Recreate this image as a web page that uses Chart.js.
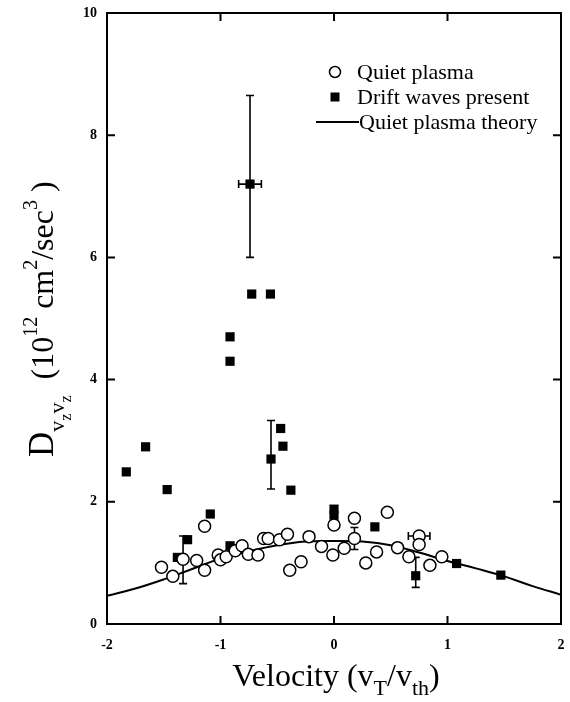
<!DOCTYPE html>
<html>
<head>
<meta charset="utf-8">
<script src="https://cdn.jsdelivr.net/npm/chart.js@4.4.0/dist/chart.umd.min.js"></script>
<style>
    html, body { margin: 0; padding: 0; background: #fff; }
    #wrap { width: 570px; height: 702px; }
</style>
</head>
<body>
<div id="wrap"><canvas id="chart" width="570" height="702"></canvas></div>
<script>
// Quiet plasma (open circles)
const quietX = [-1.52, -1.42, -1.33, -1.21, -1.14, -1.14, -1.02, -1.00, -0.95, -0.87, -0.81, -0.755, -0.67, -0.62, -0.58, -0.48, -0.41, -0.39, -0.29, -0.22, -0.11, -0.01, 0.00, 0.09, 0.18, 0.18, 0.28, 0.375, 0.47, 0.56, 0.66, 0.75, 0.75, 0.845, 0.95];
const quietY = [0.93, 0.78, 1.06, 1.04, 1.60, 0.88, 1.13, 1.05, 1.10, 1.20, 1.28, 1.14, 1.13, 1.40, 1.40, 1.38, 1.47, 0.88, 1.02, 1.43, 1.27, 1.13, 1.62, 1.24, 1.73, 1.40, 1.00, 1.18, 1.83, 1.25, 1.10, 1.44, 1.30, 0.96, 1.10];

// Drift waves present (filled squares)
const driftX = [-1.83, -1.66, -1.47, -1.38, -1.29, -1.09, -0.916, -0.916, -0.916, -0.74, -0.725, -0.56, -0.555, -0.47, -0.45, -0.38, 0.00, 0.00, 0.36, 0.72, 1.08, 1.47];
const driftY = [2.49, 2.90, 2.20, 1.09, 1.38, 1.80, 4.70, 4.30, 1.28, 7.20, 5.40, 5.40, 2.70, 3.20, 2.91, 2.19, 1.88, 1.78, 1.59, 0.79, 0.99, 0.80];

// Quiet plasma theory
const theoryX = [-2, -1.75, -1.5, -1.25, -1, -0.75, -0.5, -0.25, 0, 0.25, 0.5, 0.75, 1, 1.25, 1.5, 1.75, 2];
const theoryY = [0.46, 0.58, 0.73, 0.90, 1.07, 1.19, 1.29, 1.35, 1.36, 1.35, 1.29, 1.17, 1.03, 0.91, 0.78, 0.62, 0.48];

// error bars (null = no bar in that direction)
const errX     = [-0.74, -0.555, -1.33, 0.18, 0.75, 0.72];
const errY     = [7.20, 2.70, 1.06, 1.40, 1.44, 0.79];
const errYLow  = [6.00, 2.21, 0.66, 1.22, null, 0.60];
const errYHigh = [8.65, 3.33, 1.44, 1.58, null, 1.09];
const errXLow  = [-0.84, null, null, null, 0.655, null];
const errXHigh = [-0.64, null, null, null, 0.845, null];

const xTicks = [-2, -1, 0, 1, 2];
const yTicks = [0, 2, 4, 6, 8, 10];

const SERIF = '"Liberation Serif", "Times New Roman", serif';

function zip(xs, ys) {
    return xs.map((x, i) => ({ x: x, y: ys[i] }));
}

// draws a list of text pieces one after the other, returns end x
function drawRuns(ctx, runs, x, y) {
    runs.forEach(r => {
        ctx.font = r.s + 'px ' + SERIF;
        ctx.fillText(r.t, x, y + (r.dy || 0));
        x += ctx.measureText(r.t).width;
    });
    return x;
}
function runsWidth(ctx, runs) {
    let w = 0;
    runs.forEach(r => {
        ctx.font = r.s + 'px ' + SERIF;
        w += ctx.measureText(r.t).width;
    });
    return w;
}

const framePlugin = {
    id: 'frame',
    beforeDatasetsDraw(chart) {
        const ctx = chart.ctx;
        const xs = chart.scales.x, ys = chart.scales.y;
        ctx.save();
        ctx.strokeStyle = '#000';
        ctx.lineWidth = 1.6;
        const cap = 4;
        for (let i = 0; i < errX.length; i++) {
            const px = xs.getPixelForValue(errX[i]);
            const py = ys.getPixelForValue(errY[i]);
            ctx.beginPath();
            if (errYLow[i] !== null) {
                const y1 = ys.getPixelForValue(errYLow[i]);
                const y2 = ys.getPixelForValue(errYHigh[i]);
                ctx.moveTo(px, y1); ctx.lineTo(px, y2);
                ctx.moveTo(px - cap, y1); ctx.lineTo(px + cap, y1);
                ctx.moveTo(px - cap, y2); ctx.lineTo(px + cap, y2);
            }
            if (errXLow[i] !== null) {
                const x1 = xs.getPixelForValue(errXLow[i]);
                const x2 = xs.getPixelForValue(errXHigh[i]);
                ctx.moveTo(x1, py); ctx.lineTo(x2, py);
                ctx.moveTo(x1, py - cap); ctx.lineTo(x1, py + cap);
                ctx.moveTo(x2, py - cap); ctx.lineTo(x2, py + cap);
            }
            ctx.stroke();
        }
        ctx.restore();
    },
    afterDraw(chart) {
        const ctx = chart.ctx;
        const a = chart.chartArea;
        const xs = chart.scales.x, ys = chart.scales.y;
        ctx.save();
        ctx.strokeStyle = '#000';
        ctx.fillStyle = '#000';
        ctx.lineWidth = 2;
        ctx.strokeRect(a.left, a.top, a.right - a.left, a.bottom - a.top);

        // inward ticks on all four sides
        const tl = 8;
        ctx.beginPath();
        xTicks.slice(1, -1).forEach(v => {
            const px = xs.getPixelForValue(v);
            ctx.moveTo(px, a.bottom); ctx.lineTo(px, a.bottom - tl);
            ctx.moveTo(px, a.top); ctx.lineTo(px, a.top + tl);
        });
        yTicks.slice(1, -1).forEach(v => {
            const py = ys.getPixelForValue(v);
            ctx.moveTo(a.left, py); ctx.lineTo(a.left + tl, py);
            ctx.moveTo(a.right, py); ctx.lineTo(a.right - tl, py);
        });
        ctx.stroke();

        // legend
        ctx.textBaseline = 'middle';
        ctx.textAlign = 'left';
        ctx.font = '22px ' + SERIF;
        ctx.lineWidth = 1.5;
        ctx.beginPath();
        ctx.arc(335, 72, 5.5, 0, Math.PI * 2);
        ctx.fillStyle = '#fff';
        ctx.fill();
        ctx.stroke();
        ctx.fillStyle = '#000';
        ctx.fillText('Quiet plasma', 357, 73);
        ctx.fillRect(335 - 4.5, 97 - 4.5, 9, 9);
        ctx.fillText('Drift waves present', 357, 98);
        ctx.lineWidth = 2;
        ctx.beginPath();
        ctx.moveTo(316, 122); ctx.lineTo(359, 122);
        ctx.stroke();
        ctx.fillText('Quiet plasma theory', 359, 123);

        // x axis title
        ctx.textBaseline = 'alphabetic';
        const xRuns = [
            { t: 'Velocity (v', s: 32 },
            { t: 'T', s: 22, dy: 9 },
            { t: '/v', s: 32 },
            { t: 'th', s: 22, dy: 9 },
            { t: ')', s: 32 }
        ];
        const w = runsWidth(ctx, xRuns);
        drawRuns(ctx, xRuns, 336 - w / 2, 686);

        // y axis title, rotated
        ctx.translate(53, 457);
        ctx.rotate(-Math.PI / 2);
        drawRuns(ctx, [
            { t: 'D', s: 35 },
            { t: 'v', s: 22, dy: 11 },
            { t: 'z', s: 16, dy: 18 },
            { t: 'v', s: 22, dy: 11 },
            { t: 'z', s: 16, dy: 18 },
            { t: '  (10', s: 32 },
            { t: '12', s: 20, dy: -16 },
            { t: ' cm', s: 32 },
            { t: '2', s: 20, dy: -16 },
            { t: '/sec', s: 32 },
            { t: '3', s: 20, dy: -16 },
            { t: ' )', s: 32 }
        ], 0, 0);
        ctx.restore();
    }
};

new Chart(document.getElementById('chart'), {
    type: 'scatter',
    data: {
        datasets: [{
            label: 'Quiet plasma',
            data: zip(quietX, quietY),
            pointStyle: 'circle',
            pointRadius: 6,
            pointBackgroundColor: '#fff',
            pointBorderColor: '#000',
            pointBorderWidth: 1.5,
            order: 1
        }, {
            label: 'Drift waves present',
            data: zip(driftX, driftY),
            pointStyle: 'rect',
            pointRadius: 6.5,
            pointBackgroundColor: '#000',
            pointBorderColor: '#000',
            pointBorderWidth: 0,
            order: 2
        }, {
            label: 'Quiet plasma theory',
            data: zip(theoryX, theoryY),
            showLine: true,
            borderColor: '#000',
            borderWidth: 2,
            tension: 0.4,
            pointRadius: 0,
            order: 3
        }]
    },
    options: {
        responsive: false,
        animation: false,
        devicePixelRatio: 1,
        layout: { padding: { top: 13, right: 9, left: 0, bottom: 0 } },
        plugins: {
            legend: { display: false },
            tooltip: { enabled: false }
        },
        scales: {
            x: {
                type: 'linear',
                min: -2,
                max: 2,
                grid: { display: false, drawTicks: false },
                border: { display: false },
                afterFit: s => { s.height = 78; s.paddingLeft = 0; s.paddingRight = 0; },
                afterBuildTicks: s => { s.ticks = xTicks.map(v => ({ value: v })); },
                ticks: {
                    padding: 13,
                    color: '#000',
                    font: { family: SERIF, size: 14, weight: 'bold' },
                    callback: v => String(v)
                }
            },
            y: {
                type: 'linear',
                min: 0,
                max: 10,
                grid: { display: false, drawTicks: false },
                border: { display: false },
                afterFit: s => { s.width = 107; s.paddingTop = 0; s.paddingBottom = 0; },
                afterBuildTicks: s => { s.ticks = yTicks.map(v => ({ value: v })); },
                ticks: {
                    padding: 10,
                    color: '#000',
                    font: { family: SERIF, size: 14, weight: 'bold' },
                    callback: v => String(v)
                }
            }
        }
    },
    plugins: [framePlugin]
});
</script>
</body>
</html>
